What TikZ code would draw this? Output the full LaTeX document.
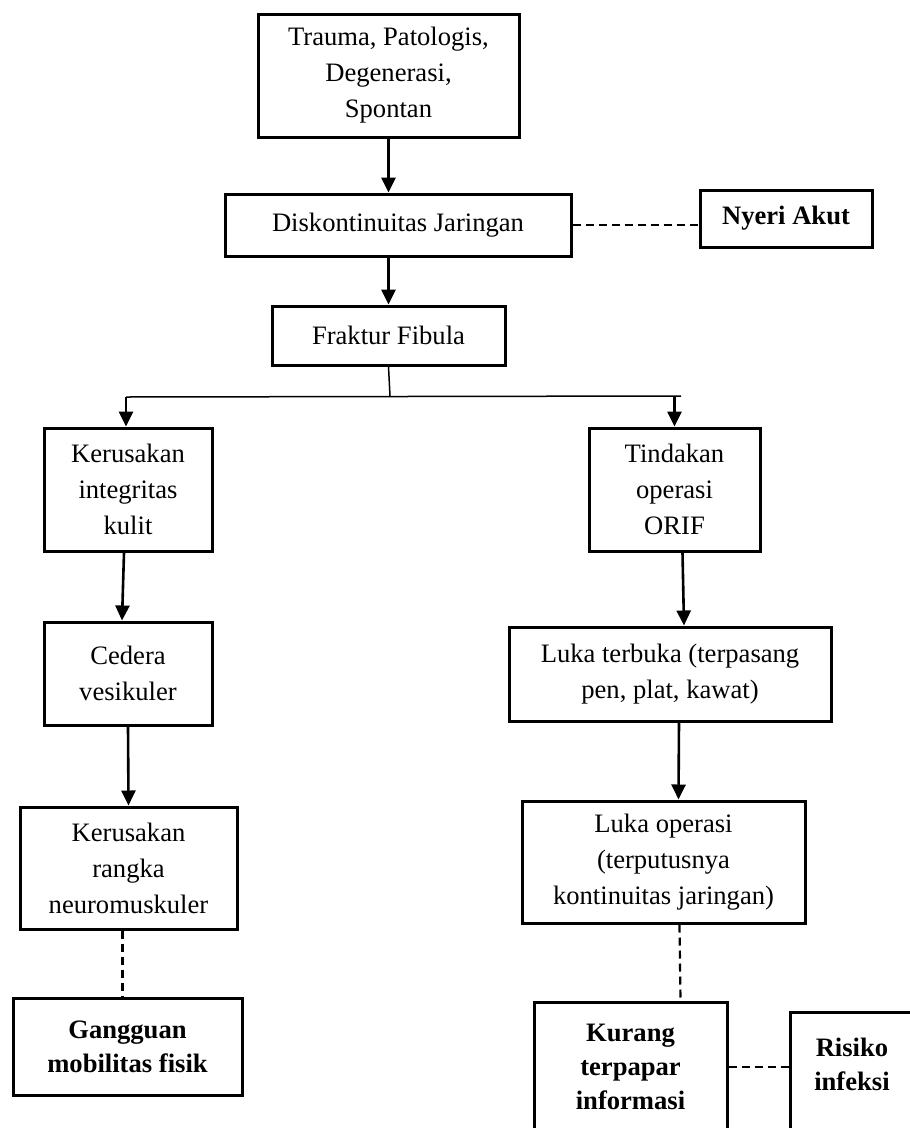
\documentclass[tikz,border=0pt]{standalone}
\usepackage{fontspec}
\setmainfont{Liberation Serif}
\usepackage{tikz}
\usetikzlibrary{arrows.meta}

\tikzset{
  box/.style={draw, line width=3pt, inner sep=0pt, align=center,
    font=\fontsize{26.6}{36}\selectfont},
  boldbox/.style={box, font=\fontsize{26.6}{34}\selectfont\bfseries},
  flow/.style={line width=2.6pt, -{Triangle[length=15pt,width=14pt]}},
  link/.style={line width=2.2pt, dash pattern=on 8pt off 5pt},
  split/.style={line width=1.5pt}
}

\begin{document}
\begin{tikzpicture}[x=1pt, y=-1pt]
  \useasboundingbox (0,0) rectangle (910,1128);
  \clip (0,0) rectangle (910,1128);

  \node (trauma) at (388.5, 75.5) [box, minimum width=261pt, minimum height=123pt] {Trauma, Patologis,\\Degenerasi,\\Spontan};
  \node (disk) at (398, 225) [box, minimum width=346pt, minimum height=62pt] {Diskontinuitas Jaringan};
  \node (nyeri) at (786, 218.5) [boldbox, minimum width=172pt, minimum height=57pt] {Nyeri Akut};
  \node (fraktur) at (388.5, 335.5) [box, minimum width=233pt, minimum height=59pt] {Fraktur Fibula};

  \node (kulit) at (128, 489.5) [box, minimum width=168pt, minimum height=123pt] {Kerusakan\\integritas\\kulit};
  \node (cedera) at (128, 673.5) [box, minimum width=168pt, minimum height=103pt] {Cedera\\vesikuler};
  \node (rangka) at (128.5, 868) [box, minimum width=217pt, minimum height=122pt] {Kerusakan\\rangka\\neuromuskuler};
  \node (gangguan) at (127.5, 1046.5) [boldbox, minimum width=229pt, minimum height=97pt] {Gangguan\\mobilitas fisik};

  \node (tindakan) at (674.5, 489.5) [box, minimum width=171pt, minimum height=123pt] {Tindakan\\operasi\\ORIF};
  \node (terbuka) at (670, 674) [box, minimum width=322pt, minimum height=94pt] {Luka terbuka (terpasang\\pen, plat, kawat)};
  \node (operasi) at (663.5, 862) [box, minimum width=283pt, minimum height=122pt] {Luka operasi\\(terputusnya\\kontinuitas jaringan)};
  \node (kurang) at (630.5, 1067) [boldbox, minimum width=193pt, minimum height=130pt] {Kurang\\terpapar\\informasi};
  \node (risiko) at (852, 1081) [boldbox, minimum width=124pt, minimum height=138pt] {Risiko\\infeksi\\\mbox{}};

  \coordinate (bar) at (390, 396);
  \coordinate (barL) at (126, 397);
  \coordinate (barR) at (681, 396);

  \draw[flow] (trauma.south) -- (trauma.south |- disk.north);
  \draw[flow] (fraktur.north |- disk.south) -- (fraktur.north);
  \draw[link] (disk.east) -- (disk.east -| nyeri.west);

  \draw[split] (fraktur.south) -- (bar);
  \draw[split] (barL) -- (barR);
  \draw[flow] (barL) -- (barL |- kulit.north);
  \draw[flow] (tindakan.north |- barR) -- (tindakan.north);

  \draw[flow] ([xshift=-4pt]kulit.south) -- ([xshift=-6pt]cedera.north);
  \draw[flow] (cedera.south) -- (rangka.north);
  \draw[link] ([xshift=-6pt]rangka.south) -- ([xshift=-6pt]rangka.south |- gangguan.north);

  \draw[flow] ([xshift=8pt]tindakan.south) -- ([xshift=14pt]terbuka.north);
  \draw[flow] ([xshift=9pt]terbuka.south) -- ([xshift=15pt]operasi.north);
  \draw[link] ([xshift=16pt]operasi.south) -- ([xshift=50pt]kurang.north);
  \draw[link] (kurang.east) -- (kurang.east -| risiko.west);
\end{tikzpicture}
\end{document}
